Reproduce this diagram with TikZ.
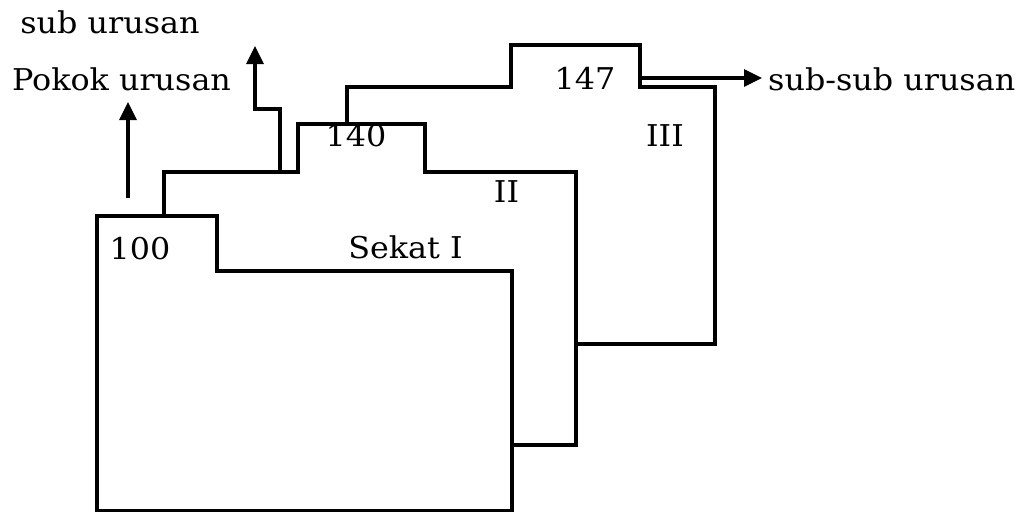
\documentclass[tikz,border=0pt]{standalone}
\usepackage{fontspec}
\setmainfont[FakeStretch=1.06]{DejaVu Serif}
\usetikzlibrary{arrows.meta}
\begin{document}
\begin{tikzpicture}[x=1pt,y=-1pt,
  folder/.style={draw=black,fill=white,line width=3.2pt,line join=miter},
  arr/.style={draw=black,line width=3.2pt,-{Triangle[width=17pt,length=18pt]}},
  lbl/.style={inner sep=0pt,anchor=base,font=\fontsize{30}{32}\selectfont}]
\useasboundingbox (0,0) rectangle (1027,512);
% folder III
\draw[folder] (347,344) -- (347,87) -- (511,87) -- (511,45) -- (640,45) -- (640,87) -- (715,87) -- (715,344) -- cycle;
% folder II
\draw[folder] (164,445) -- (164,172) -- (298,172) -- (298,124) -- (425,124) -- (425,172) -- (576,172) -- (576,445) -- cycle;
% folder I
\draw[folder] (97,510.5) -- (97,216) -- (217,216) -- (217,271) -- (512,271) -- (512,510.5) -- cycle;
% labels
\node[lbl] (sub) at (110,33) {sub urusan};
\node[lbl] (pokok) at (121.5,90) {Pokok urusan};
\node[lbl,anchor=base west] (subsub) at (768,90) {sub-sub urusan};
\node[lbl] (n147) at (585,89) {147};
\node[lbl] (n140) at (356,146) {140};
\node[lbl] (n100) at (140,259) {100};
\node[lbl] (lIII) at (665,146) {III};
\node[lbl] (lII) at (506.5,202) {II};
\node[lbl] (lI) at (405.5,258) {Sekat I};
% arrows
\coordinate (pkA) at (128,198);
\coordinate (pkB) at (128,102);
\coordinate (suA) at (280,172);
\coordinate (suB) at (255,46);
\coordinate (ssA) at (641,78);
\coordinate (ssB) at (762,78);
\draw[arr] (pkA) -- (pkB);
\draw[arr] (suA) |- (255,109) -- (suB);
\draw[arr] (ssA) -- (ssB);
\end{tikzpicture}
\end{document}
